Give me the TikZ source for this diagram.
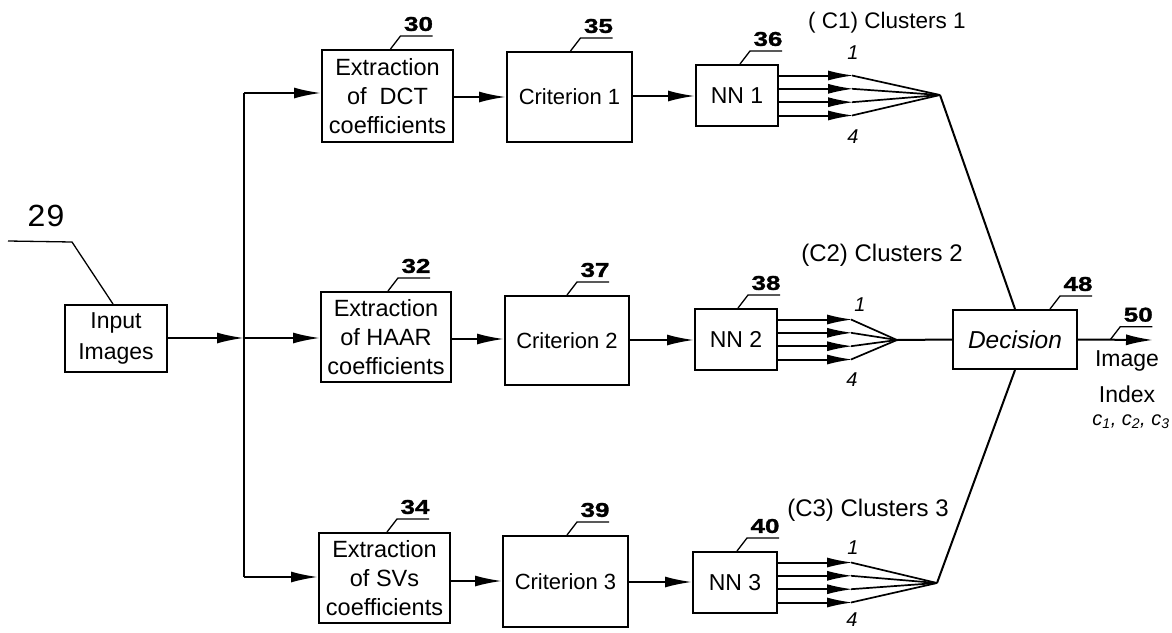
\documentclass[tikz,border=0pt]{standalone}
\usepackage{fontspec}
\setmainfont{Liberation Sans}
\newfontfamily\numfont[FakeStretch=1.3,FakeBold=1.5]{Liberation Sans}
\newfontfamily\monofnt{Liberation Mono}
\usetikzlibrary{arrows.meta,calc}
\tikzset{
  box/.style={draw, line width=2pt, inner sep=0pt, align=center},
  wire/.style={line width=2pt},
  arr/.style={wire, -{Latex[length=27pt,width=11pt]}},
  fanarr/.style={line width=2pt, -{Latex[length=26pt,width=10pt]}},
  leader/.style={line width=1.3pt},
  num/.style={font=\numfont\bfseries\fontsize{20}{20}\selectfont},
  extxt/.style={font=\fontsize{23.5}{29}\selectfont},
  crtxt/.style={font=\fontsize{22}{26}\selectfont},
  nntxt/.style={font=\fontsize{23}{26}\selectfont},
  clus/.style={font=\fontsize{24}{26}\selectfont},
  idx/.style={font=\itshape\fontsize{20}{20}\selectfont},
}
\newcommand\refnum[2]{\draw[leader] (#1) -- ++(10,-13) -- ++(32,0) node[num, xshift=-14pt, yshift=12pt]{#2};}
\begin{document}
\begin{tikzpicture}[x=1pt,y=-1pt]
\useasboundingbox (0,0) rectangle (1172,632);

% boxes
\node[box, minimum width=102pt, minimum height=67pt, font=\fontsize{23}{31}\selectfont] (inp) at (116,338.5) {Input\\Images};
\node[box, extxt, minimum width=131pt, minimum height=92pt] (ex1) at (387.5,96) {Extraction\\of~ DCT\\coefficients};
\node[box, extxt, minimum width=130pt, minimum height=90pt] (ex2) at (386,337) {Extraction\\of HAAR\\coefficients};
\node[box, extxt, minimum width=131pt, minimum height=90pt] (ex3) at (384.5,578) {Extraction\\of SVs\\coefficients};
\node[box, crtxt, minimum width=125pt, minimum height=90pt] (cr1) at (569.5,97) {Criterion 1};
\node[box, crtxt, minimum width=124pt, minimum height=89pt] (cr2) at (567,340.5) {Criterion 2};
\node[box, crtxt, minimum width=125pt, minimum height=91pt] (cr3) at (565.5,581.5) {Criterion 3};
\node[box, nntxt, minimum width=82pt, minimum height=61pt] (nn1) at (737,95.5) {NN 1};
\node[box, nntxt, minimum width=82pt, minimum height=61pt] (nn2) at (736,339.5) {NN 2};
\node[box, nntxt, minimum width=84pt, minimum height=61pt] (nn3) at (735,582.5) {NN 3};
\node[box, font=\itshape\fontsize{24.5}{26}\selectfont, minimum width=124pt, minimum height=59pt] (dec) at (1015,339.5) {Decision};

% junction coordinates
\coordinate (j1) at (244,93);
\coordinate (j2) at (244,338);
\coordinate (j3) at (244,577);
\coordinate (c1) at (940,95);
\coordinate (c2) at (897,340);
\coordinate (c3) at (937,583);
\coordinate (out) at (1153,340);

% input distribution
\draw[arr] (inp.east |- j2) -- (j2);
\draw[wire] (j1) -- (j3);
\draw[arr] (j1) -- (j1 -| ex1.west);
\draw[arr] (j2) -- (j2 -| ex2.west);
\draw[arr] (j3) -- (j3 -| ex3.west);

% extraction -> criterion -> NN
\draw[arr] (ex1.east |- 0,97) -- (cr1.west |- 0,97);
\draw[arr] (ex2.east |- 0,339) -- (cr2.west |- 0,339);
\draw[arr] (ex3.east |- 0,581) -- (cr3.west |- 0,581);
\draw[arr] (cr1.east |- 0,96) -- (nn1.west |- 0,96);
\draw[arr] (cr2.east |- 0,340) -- (nn2.west |- 0,340);
\draw[arr] (cr3.east |- 0,582) -- (nn3.west |- 0,582);

% fans
\foreach \n/\c in {nn1/c1, nn2/c2, nn3/c3}{
  \foreach \d in {-20,-6.7,6.7,20}{
    \draw[fanarr] ($(\n.east)+(0,\d)$) -- ++(75,0);
    \draw[line width=1.7pt] ($(\n.east)+(73,\d)$) -- (\c);
  }
}

% to decision
\draw[wire] (c1) -- (dec.north);
\draw[wire] (c2) -- (dec.west);
\draw[wire] (c3) -- (dec.south);
\draw[arr] (dec.east) -- (out);

% reference numbers
\draw[leader] ($(inp.north)+(-3,0)$) -- (72,242) -- (8,241);
\node[font=\monofnt\fontsize{32}{32}\selectfont] (n29) at (46,216) {29};
\refnum{$(ex1.north)+(3,0)$}{30}
\refnum{$(ex2.north)+(2,0)$}{32}
\refnum{$(ex3.north)+(2.5,0)$}{34}
\refnum{$(cr1.north)+(1,0)$}{35}
\refnum{$(cr2.north)+(0,0)$}{37}
\refnum{$(cr3.north)+(1.5,0)$}{39}
\refnum{$(nn1.north)+(3,0)$}{36}
\refnum{$(nn2.north)+(2,0)$}{38}
\refnum{$(nn3.north)+(2,0)$}{40}
\refnum{$(dec.north)+(35,0)$}{48}
\refnum{$(nn1.east)+(75,-20)!0.5!(c1)$}{42}
\refnum{$(nn2.east)+(75,-20)!0.57!(c2)$}{44}
\refnum{$(nn3.east)+(75,-20)!0.47!(c3)$}{46}
\refnum{$(dec.east)!0.43!(out)$}{50}

% cluster labels
\node[font=\fontsize{22.5}{26}\selectfont] (cl1) at (887,23) {( C1) Clusters 1};
\node[clus] (cl2) at (882,255) {(C2) Clusters 2};
\node[clus] (cl3) at (868,510) {(C3) Clusters 3};
\node[idx] (a1) at (853,53) {1};
\node[idx] (b1) at (853,137) {4};
\node[idx] (a2) at (860,305) {1};
\node[idx] (b2) at (852,380) {4};
\node[idx] (a3) at (853,548) {1};
\node[idx] (b3) at (852,620) {4};

% output labels
\node[font=\fontsize{23}{36}\selectfont, align=center] (oidx) at (1127,377) {Image\\Index};
\node[font=\itshape\fontsize{20}{22}\selectfont, inner sep=0pt] (ovals) at (1131,422) {c\textsubscript{1}, c\textsubscript{2}, c\textsubscript{3}};
\end{tikzpicture}
\end{document}
